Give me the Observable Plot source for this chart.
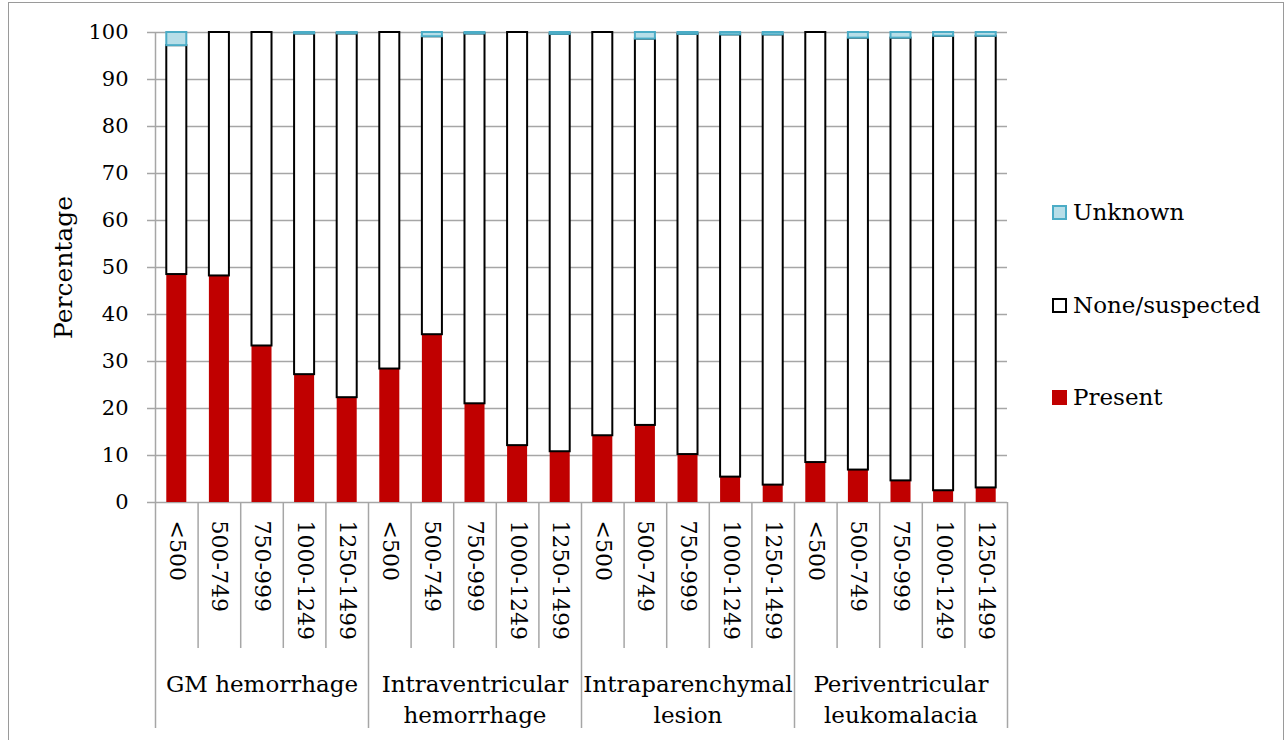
<!DOCTYPE html>
<html>
<head>
<meta charset="utf-8">
<script src="https://cdn.jsdelivr.net/npm/d3@7"></script>
<script src="https://cdn.jsdelivr.net/npm/@observablehq/plot@0.6"></script>
<style>
  html, body { margin: 0; padding: 0; background: #fff; }
  #wrap { position: relative; width: 1286px; height: 740px; overflow: hidden; font-family: "DejaVu Serif", serif; background: #fff; }
  #frame { position: absolute; left: 8px; top: 2px; width: 1276px; height: 800px; border: 1.5px solid #9a9a9a; box-sizing: border-box; pointer-events: none; }
  #chart { position: absolute; left: 0; top: 0; }
  .item { position: absolute; left: 1052px; display: flex; align-items: center; height: 28px; font-size: 23px; color: #000; white-space: nowrap; }
  .sw { width: 11px; height: 11px; margin-right: 6px; box-sizing: content-box; }
</style>
</head>
<body>
<div id="wrap">
  <div id="chart"></div>
  <div id="legend"></div>
  <div id="frame"></div>
</div>
<script>
// ---- data ----
const groups = ["GM hemorrhage", "Intraventricular\nhemorrhage", "Intraparenchymal\nlesion", "Periventricular\nleukomalacia"];
const bins = ["<500", "500-749", "750-999", "1000-1249", "1250-1499"];
const series = ["Unknown", "None/suspected", "Present"];
const present = [48.5, 48.2, 33.3, 27.2, 22.3, 28.4, 35.7, 21.0, 12.1, 10.8, 14.2, 16.4, 10.2, 5.4, 3.7, 8.5, 6.9, 4.6, 2.5, 3.1];
const none    = [48.7, 51.8, 66.7, 72.5, 77.4, 71.6, 63.4, 78.7, 87.9, 88.8, 85.8, 82.2, 89.4, 94.1, 95.8, 91.5, 91.9, 94.2, 96.7, 96.1];
const unknown = [2.8, 0, 0, 0.3, 0.3, 0, 0.9, 0.3, 0, 0.4, 0, 1.4, 0.4, 0.5, 0.5, 0, 1.2, 1.2, 0.8, 0.8];
const yTicks = [0, 10, 20, 30, 40, 50, 60, 70, 80, 90, 100];

// ---- styles ----
const colors = {
  "Present": {fill: "#C00000", stroke: "#C00000"},
  "None/suspected": {fill: "#FFFFFF", stroke: "#000000"},
  "Unknown": {fill: "#B7DEE8", stroke: "#4BACC6"}
};
const W = 1286, H = 740, mL = 155, mR = 279, mT = 32, mB = 238;

const rows = [];
groups.forEach((g, gi) => bins.forEach((b, bi) => {
  const i = gi * bins.length + bi;
  rows.push({key: gi + "|" + b, group: g, bin: b, gi, bi,
             present: present[i], none: none[i], unknown: unknown[i]});
}));
const keys = rows.map(d => d.key);
const step = (W - mL - mR) / keys.length;
const grid = "#a6a6a6";

const chart = Plot.plot({
  width: W, height: H,
  marginLeft: mL, marginRight: mR, marginTop: mT, marginBottom: mB,
  style: {fontFamily: "DejaVu Serif", color: "#000", background: "transparent", overflow: "visible"},
  x: {type: "band", domain: keys, paddingInner: 0.53, paddingOuter: 0.265, round: false, axis: null},
  y: {domain: [0, 100], axis: null},
  marks: [
    Plot.gridY(yTicks, {stroke: grid, strokeOpacity: 1, strokeWidth: 1.5}),
    Plot.axisY(yTicks, {tickSize: 8, tickPadding: 19, fontSize: 21, stroke: grid, strokeWidth: 1.5, label: null}),
    // y axis line and its downward continuation
    Plot.ruleX([keys[0]], {x: d => d, y1: 100, y2: 0, dx: -step / 2, insetBottom: -226, stroke: grid, strokeWidth: 1.5}),
    // sub-category separators
    Plot.ruleX(rows.filter(d => d.bi > 0), {x: "key", y1: 0, y2: 0, dx: -step / 2, insetBottom: -146, stroke: grid, strokeWidth: 1.5}),
    // group separators
    Plot.ruleX(rows.filter(d => d.bi === 0 && d.gi > 0), {x: "key", y1: 0, y2: 0, dx: -step / 2, insetBottom: -226, stroke: grid, strokeWidth: 1.5}),
    Plot.ruleX([keys[keys.length - 1]], {x: d => d, y1: 0, y2: 0, dx: step / 2, insetBottom: -226, stroke: grid, strokeWidth: 1.5}),
    // stacked bars
    Plot.barY(rows, {x: "key", y1: () => 0, y2: "present", fill: colors["Present"].fill}),
    Plot.barY(rows, {x: "key", y1: d => d.present, y2: d => d.present + d.none,
      fill: colors["None/suspected"].fill, stroke: colors["None/suspected"].stroke, strokeWidth: 2}),
    Plot.barY(rows.filter(d => d.unknown > 0), {x: "key", y1: d => d.present + d.none, y2: d => d.present + d.none + d.unknown,
      fill: colors["Unknown"].fill, stroke: colors["Unknown"].stroke, strokeWidth: 2}),
    // category labels
    Plot.text(rows, {x: "key", y: () => 0, text: "bin", rotate: 90, textAnchor: "start", lineAnchor: "middle",
      dy: 18, fontSize: 22, fill: "#000"}),
    Plot.text(rows.filter(d => d.bi === 2), {x: "key", y: () => 0, text: "group", lineAnchor: "top",
      dy: 167, fontSize: 23, lineHeight: 1.35, fill: "#000"}),
    // y label
    Plot.text(["Percentage"], {text: d => d, frameAnchor: "left", textAnchor: "middle", lineAnchor: "middle",
      rotate: -90, dx: -92, fontSize: 25, fill: "#000"})
  ]
});
document.getElementById("chart").appendChild(chart);

// legend
const legendPos = {"Unknown": 212, "None/suspected": 305, "Present": 397};
const lg = document.getElementById("legend");
series.forEach(s => {
  const it = document.createElement("div");
  it.className = "item";
  it.style.top = (legendPos[s] - 14) + "px";
  const sw = document.createElement("span");
  sw.className = "sw";
  sw.style.background = colors[s].fill;
  sw.style.border = "2px solid " + colors[s].stroke;
  it.appendChild(sw);
  it.appendChild(document.createTextNode(s));
  lg.appendChild(it);
});
</script>
</body>
</html>
